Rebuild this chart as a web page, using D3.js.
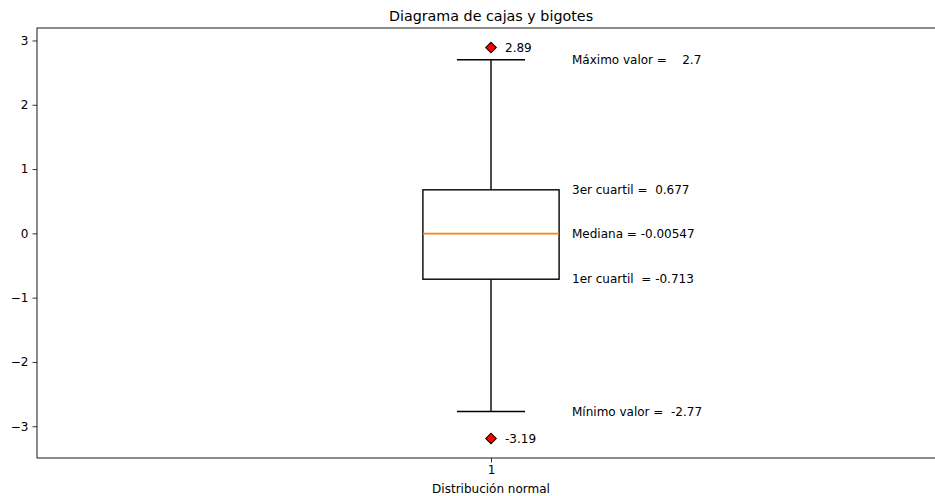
<!DOCTYPE html>
<html><head><meta charset="utf-8">
<script src="https://cdn.jsdelivr.net/npm/d3@7"></script>
<style>
body{margin:0;background:#fff;}
text{font-family:"DejaVu Sans",sans-serif;fill:#000;}
</style></head>
<body><svg id="c" width="935" height="496"></svg>
<script>
const categories = ["1"];
const statNames = ["whiskerHigh","q3","median","q1","whiskerLow"];
const statValues = [2.7, 0.677, -0.00547, -0.713, -2.77];
const statLabels = ["Máximo valor =    2.7","3er cuartil =  0.677","Mediana = -0.00547","1er cuartil  = -0.713","Mínimo valor =  -2.77"];
const outliers = [2.89, -3.19];
const outlierLabels = ["2.89","-3.19"];
const yTicks = [-3,-2,-1,0,1,2,3];

const svg = d3.select("#c");
const m = {l:37, t:28, r:945, b:458};
const x = d3.scaleLinear().domain([0.5,1.5]).range([m.l, m.r]);
const lo = -3.494, hi = 3.194;
const y = d3.scaleLinear().domain([lo, hi]).range([m.b, m.t]);
const [wHi,q3,med,q1,wLo] = statValues;
const pos = 1, bw = 0.15, cw = 0.075;

// axes
const yAxis = d3.axisLeft(y).tickValues(yTicks).tickSize(4.5).tickPadding(4)
  .tickFormat(d => d < 0 ? "\u2212" + Math.abs(d) : d);
const gy = svg.append("g").attr("transform",`translate(${m.l},0)`).call(yAxis);
const xAxis = d3.axisBottom(x).tickValues([1]).tickSize(4.5).tickPadding(3).tickFormat((d,i)=>categories[i]);
const gx = svg.append("g").attr("transform",`translate(0,${m.b})`).call(xAxis);
[gx,gy].forEach(g=>{g.select(".domain").remove(); g.selectAll("line").attr("stroke","#000").attr("stroke-width",0.8);
  g.selectAll("text").style("font-family","DejaVu Sans").style("font-size","12px").attr("fill","#000");});

// spines
svg.append("rect").attr("x",m.l).attr("y",m.t).attr("width",m.r-m.l).attr("height",m.b-m.t)
  .attr("fill","none").attr("stroke","#000").attr("stroke-width",0.9);

const g = svg.append("g");
// whiskers
g.append("line").attr("x1",x(pos)).attr("x2",x(pos)).attr("y1",y(q3)).attr("y2",y(wHi)).attr("stroke","#000").attr("stroke-width",1.4);
g.append("line").attr("x1",x(pos)).attr("x2",x(pos)).attr("y1",y(q1)).attr("y2",y(wLo)).attr("stroke","#000").attr("stroke-width",1.4);
// caps
[wHi,wLo].forEach(v=>g.append("line").attr("x1",x(pos-cw/2)).attr("x2",x(pos+cw/2)).attr("y1",y(v)).attr("y2",y(v)).attr("stroke","#000").attr("stroke-width",1.4));
// box
g.append("rect").attr("x",x(pos-bw/2)).attr("y",y(q3)).attr("width",x(pos+bw/2)-x(pos-bw/2)).attr("height",y(q1)-y(q3))
  .attr("fill","none").attr("stroke","#000").attr("stroke-width",1.4);
// median
g.append("line").attr("x1",x(pos-bw/2)).attr("x2",x(pos+bw/2)).attr("y1",y(med)).attr("y2",y(med)).attr("stroke","#ff7f0e").attr("stroke-width",1.7);
// fliers
outliers.forEach((v,i)=>{
  g.append("path").attr("d",d3.symbol().type(d3.symbolSquare).size(56)())
    .attr("transform",`translate(${x(pos)},${y(v)}) rotate(45)`)
    .attr("fill","#ff0000").attr("stroke","#000").attr("stroke-width",1);
  g.append("text").attr("x",x(pos)+14).attr("y",y(v)).attr("dy","0.35em").style("font-size","12px").text(outlierLabels[i]);
});
// stat labels
statValues.forEach((v,i)=>{
  g.append("text").attr("x",572).attr("y",y(v)).attr("dy","0.35em").style("font-size","12px")
    .style("white-space","pre").attr("xml:space","preserve").text(statLabels[i]);
});
// title & xlabel
svg.append("text").attr("x",491).attr("y",21).attr("text-anchor","middle").style("font-size","14.3px").text("Diagrama de cajas y bigotes");
svg.append("text").attr("x",491).attr("y",493).attr("text-anchor","middle").style("font-size","12px").text("Distribución normal");
</script></body></html>
